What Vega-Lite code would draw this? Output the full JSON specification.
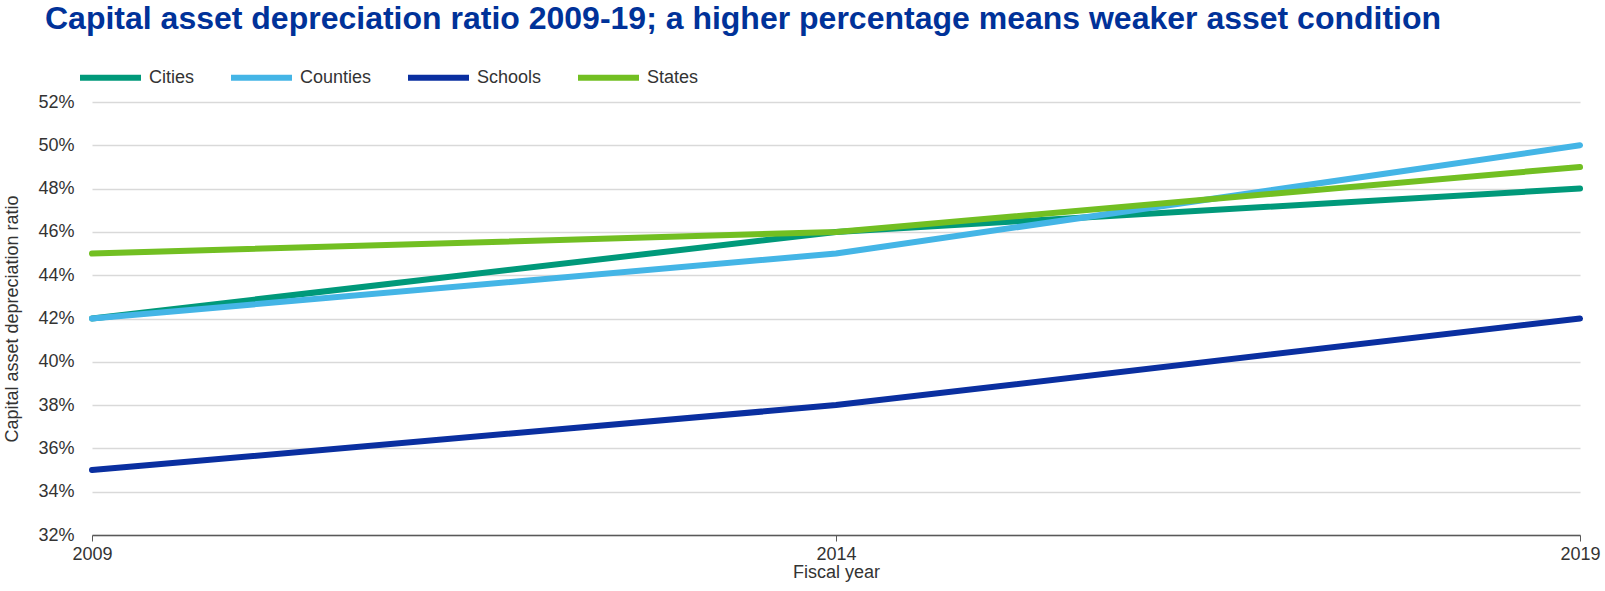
{
  "$schema": "https://vega.github.io/schema/vega-lite/v6.json",
  "autosize": {"type": "none"},
  "width": 1488,
  "height": 433,
  "padding": {"left": 92, "top": 102, "right": 25, "bottom": 56},
  "background": "white",
  "title": {
    "text": "Capital asset depreciation ratio 2009-19; a higher percentage means weaker asset condition",
    "anchor": "start",
    "frame": "group",
    "dx": -47,
    "font": "Liberation Sans",
    "fontSize": 32,
    "fontWeight": "bold",
    "color": "#003299",
    "offset": 8
  },
  "data": {
    "values": [
      {"year": 2009, "series": "Cities", "ratio": 0.42},
      {"year": 2014, "series": "Cities", "ratio": 0.46},
      {"year": 2019, "series": "Cities", "ratio": 0.48},
      {"year": 2009, "series": "Counties", "ratio": 0.42},
      {"year": 2014, "series": "Counties", "ratio": 0.45},
      {"year": 2019, "series": "Counties", "ratio": 0.50},
      {"year": 2009, "series": "Schools", "ratio": 0.35},
      {"year": 2014, "series": "Schools", "ratio": 0.38},
      {"year": 2019, "series": "Schools", "ratio": 0.42},
      {"year": 2009, "series": "States", "ratio": 0.45},
      {"year": 2014, "series": "States", "ratio": 0.46},
      {"year": 2019, "series": "States", "ratio": 0.49}
    ]
  },
  "mark": {"type": "line", "interpolate": "linear", "strokeWidth": 6, "strokeCap": "round", "strokeJoin": "round"},
  "encoding": {
    "x": {
      "field": "year",
      "type": "quantitative",
      "scale": {"domain": [2009, 2019], "nice": false, "zero": false},
      "axis": {
        "values": [2009, 2014, 2019],
        "format": "d",
        "title": "Fiscal year",
        "grid": false,
        "domainColor": "#595959",
        "domainWidth": 1.5,
        "tickColor": "#595959",
        "tickSize": 6,
        "labelPadding": 4,
        "labelFlush": false,
        "labelFont": "Liberation Sans",
        "labelFontSize": 18,
        "labelColor": "#333333",
        "titleFont": "Liberation Sans",
        "titleFontSize": 18,
        "titleFontWeight": "normal",
        "titleColor": "#333333",
        "titlePadding": 0
      }
    },
    "y": {
      "field": "ratio",
      "type": "quantitative",
      "scale": {"domain": [0.32, 0.52], "nice": false, "zero": false},
      "axis": {
        "values": [0.32, 0.34, 0.36, 0.38, 0.40, 0.42, 0.44, 0.46, 0.48, 0.50, 0.52],
        "format": ".0%",
        "title": "Capital asset depreciation ratio",
        "domain": false,
        "ticks": false,
        "gridColor": "#d9d9d9",
        "gridWidth": 1.5,
        "labelPadding": 18,
        "labelFont": "Liberation Sans",
        "labelFontSize": 18,
        "labelColor": "#333333",
        "titleFont": "Liberation Sans",
        "titleFontSize": 18,
        "titleFontWeight": "normal",
        "titleColor": "#333333",
        "titlePadding": 16
      }
    },
    "color": {
      "field": "series",
      "type": "nominal",
      "scale": {
        "domain": ["Cities", "Counties", "Schools", "States"],
        "range": ["#00997A", "#44B5E6", "#0A2FA0", "#72BF22"]
      },
      "legend": {
        "title": null,
        "orient": "none",
        "direction": "horizontal",
        "legendX": -15,
        "legendY": -58,
        "symbolType": "stroke",
        "symbolSize": 3721,
        "symbolStrokeWidth": 6,
        "labelOffset": 5,
        "columnPadding": 24,
        "labelFont": "Liberation Sans",
        "labelFontSize": 18,
        "labelColor": "#333333"
      }
    }
  },
  "config": {"view": {"stroke": null}}
}
